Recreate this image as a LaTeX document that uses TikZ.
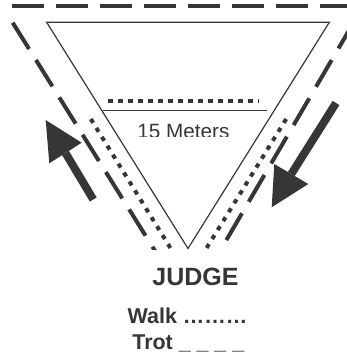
\documentclass[tikz,border=0pt]{standalone}
\usepackage{fontspec}
\setmainfont{Liberation Sans}
\definecolor{ink}{HTML}{363636}
\begin{document}
\begin{tikzpicture}[x=1pt,y=-1pt,
  thinline/.style={draw=ink, line width=1.2pt},
  longdash/.style={draw=ink, line width=4pt, dash pattern=on 31pt off 13pt},
  topdash/.style={draw=ink, line width=3.6pt, dash pattern=on 32pt off 12pt},
  dotrow/.style={draw=ink, line width=4pt, dash pattern=on 4.5pt off 6pt},
  hdots/.style={draw=ink, line width=4pt, dash pattern=on 5pt off 5pt},
  shaft/.style={draw=ink, line width=8pt},
  head/.style={fill=ink},
  lbl/.style={text=ink, inner sep=0pt, anchor=base}]
\useasboundingbox (0,0) rectangle (347,356);
\clip (0,0) rectangle (347,356);

% coordinates
\coordinate (TL) at (46.7,22.3);
\coordinate (TR) at (329.3,22.3);
\coordinate (AP) at (188,248.5);
\coordinate (topS) at (11.7,6);
\coordinate (topE) at (360,6);
\coordinate (LoS) at (12.7,22.7);
\coordinate (LoE) at (157.6,255);
\coordinate (RoS) at (354.1,21.7);
\coordinate (RoE) at (217.6,255);
\coordinate (LiS) at (90.8,119);
\coordinate (LiE) at (173.5,253);
\coordinate (RiS) at (286.2,119);
\coordinate (RiE) at (203.5,253);
\coordinate (HlS) at (103,110.7);
\coordinate (HlE) at (266.7,110.7);
\coordinate (HdS) at (108.3,100.7);
\coordinate (HdE) at (259.3,100.7);

% top dashed line
\draw[topdash] (topS) -- (topE);

% triangle
\draw[thinline, line join=miter] (TL) -- (TR) -- (AP) -- cycle;
\draw[thinline] (HlS) -- (HlE);
\draw[hdots] (HdS) -- (HdE);

% side lines, cut at the apex level
\begin{scope}
  \clip (0,0) rectangle (347,249);
  \draw[longdash] (LoS) -- (LoE);
  \draw[longdash, dash pattern=on 31pt off 13.4pt] (RoS) -- (RoE);
  \draw[dotrow] (LiS) -- (LiE);
  \draw[dotrow] (RiS) -- (RiE);
\end{scope}

% arrows
\coordinate (A1tail) at (93.3,199.5);
\coordinate (A1base) at (65.5,153);
\coordinate (A1tip) at (45.7,120);
\coordinate (A1c1) at (81.7,142.7);
\coordinate (A1c2) at (49.3,163.3);
\draw[shaft] (A1tail) -- (A1base);
\fill[head] (A1tip) -- (A1c1) -- (A1c2) -- cycle;

\coordinate (A2tail) at (336,103);
\coordinate (A2base) at (291.3,174);
\coordinate (A2tip) at (271.7,207.3);
\coordinate (A2c1) at (274.3,164);
\coordinate (A2c2) at (308.3,184);
\draw[shaft] (A2tail) -- (A2base);
\fill[head] (A2tip) -- (A2c1) -- (A2c2) -- cycle;

% label inside triangle, cut at the bottom
\begin{scope}
  \clip (100,115) rectangle (280,136);
  \node[lbl, font=\fontsize{20.7pt}{24pt}\selectfont] (meters) at (183.4,138.1) {15 Meters};
\end{scope}

% texts below
\node[lbl, font=\fontsize{25pt}{30pt}\selectfont\bfseries] (judge) at (195.5,285.5) {JUDGE};
\node[lbl, font=\fontsize{21.5pt}{26pt}\selectfont\bfseries] (walk) at (187.5,323.5) {Walk ………};
\node[lbl, font=\fontsize{21.4pt}{26pt}\selectfont\bfseries] (trot) at (188.3,349) {Trot \_ \_ \_ \_};
\end{tikzpicture}
\end{document}
